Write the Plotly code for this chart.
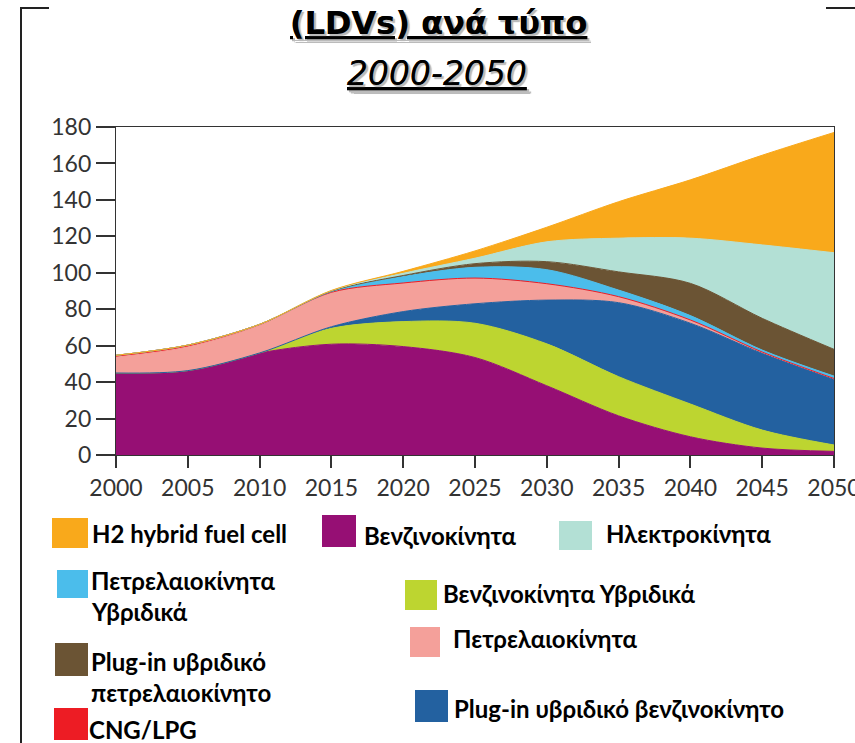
import plotly.graph_objects as go

# ---------------- data ----------------
years = [2000, 2005, 2010, 2015, 2020, 2025, 2030, 2035, 2040, 2045, 2050]

benzinokinita = [45, 46.3, 56, 60.8, 59.5, 53.5, 38, 21.5, 10, 3.8, 2]
benz_hybrid = [0, 0, 0, 8.7, 13.7, 18.8, 23, 21.5, 18, 9.9, 3.5]
plugin_benz = [0, 0, 0, 0.9, 5.5, 10.7, 24, 40.6, 44.3, 42.1, 36]
petrelaio = [8.7, 13, 15, 18.6, 15.5, 14, 9, 3.3, 1.8, 0.7, 0.5]
cng_lpg = [1, 1, 0.7, 0.3, 0.2, 0.1, 0, 0, 0, 0, 0]
petrel_hybrid = [0, 0, 0, 0.4, 3.5, 5.9, 7.7, 3.6, 2.4, 1.1, 1.3]
plugin_petrel = [0, 0, 0, 0.2, 0.6, 2, 4.4, 10, 17.7, 17.4, 14.7]
ilektro = [0, 0, 0, 0.3, 1.2, 3, 10.9, 18.5, 24.8, 40.3, 53]
h2_fuel = [0, 0, 0, 0.1, 1.1, 4, 8, 20, 32, 49.2, 66]

y_ticks = [0, 20, 40, 60, 80, 100, 120, 140, 160, 180]
x_ticks = [2000, 2005, 2010, 2015, 2020, 2025, 2030, 2035, 2040, 2045, 2050]

title_text = "(LDVs) ανά τύπο"
subtitle_text = "2000-2050"

# stacking order (bottom -> top)
series = [
    ("Βενζινοκίνητα", benzinokinita, "#960F74"),
    ("Βενζινοκίνητα Υβριδικά", benz_hybrid, "#BDD530"),
    ("Plug-in υβριδικό βενζινοκίνητο", plugin_benz, "#2361A0"),
    ("Πετρελαιοκίνητα", petrelaio, "#F4A09A"),
    ("CNG/LPG", cng_lpg, "#ED1C24"),
    ("Πετρελαιοκίνητα Υβριδικά", petrel_hybrid, "#4BBDEB"),
    ("Plug-in υβριδικό πετρελαιοκίνητο", plugin_petrel, "#6B5434"),
    ("Ηλεκτροκίνητα", ilektro, "#B3E0D5"),
    ("H2 hybrid fuel cell", h2_fuel, "#F9A91B"),
]

fig = go.Figure()
for name, vals, col in series:
    fig.add_trace(go.Scatter(
        x=years, y=vals, name=name, mode="lines",
        stackgroup="one", fillcolor=col,
        line=dict(color=col, width=1, shape="spline", smoothing=0.9),
        showlegend=False,
    ))

W, H = 855, 743
L, R, T, B = 116, 21, 127, 288


def px(x):
    return (x - L) / (W - L - R)


def py(y):
    return (H - B - y) / (H - T - B)


axis_font = dict(family="Lato, 'Open Sans', sans-serif", size=23, color="#333333")

fig.update_layout(
    width=W, height=H,
    margin=dict(l=L, r=R, t=T, b=B, autoexpand=False),
    paper_bgcolor="white", plot_bgcolor="white",
    xaxis=dict(range=[2000, 2050], tickvals=x_ticks, ticktext=[str(v) for v in x_ticks],
               showgrid=False, zeroline=False, showline=True, linecolor="#333",
               linewidth=1.2, mirror=True, ticks="outside", ticklen=12, tickwidth=1.5,
               tickcolor="#333", tickfont=axis_font, ticklabeloverflow="allow",
               automargin=False),
    yaxis=dict(range=[0, 180], tickvals=y_ticks, showgrid=False, zeroline=False,
               showline=True, linecolor="#333", linewidth=1.2, mirror=True,
               ticks="outside", ticklen=19, tickwidth=1.5, tickcolor="#333",
               tickfont=axis_font, automargin=False),
)

lbl_font = dict(family="Lato, 'Open Sans', sans-serif", size=24, color="black", weight="bold")

# legend layout: (series name, square box, text lines)
legend_items = [
    ("H2 hybrid fuel cell", (52, 518, 88, 548), [(90, 533, "H2 hybrid fuel cell")]),
    ("Βενζινοκίνητα", (322, 515, 356, 547), [(362, 535, "Βενζινοκίνητα")]),
    ("Ηλεκτροκίνητα", (559, 521, 592, 550), [(604, 533, "Ηλεκτροκίνητα")]),
    ("Πετρελαιοκίνητα Υβριδικά", (57, 570, 88, 598), [(89, 580, "Πετρελαιοκίνητα"), (89, 611, "Υβριδικά")]),
    ("Βενζινοκίνητα Υβριδικά", (405, 580, 437, 610), [(441, 593, "Βενζινοκίνητα Υβριδικά")]),
    ("Πετρελαιοκίνητα", (410, 627, 440, 657), [(451, 638, "Πετρελαιοκίνητα")]),
    ("Plug-in υβριδικό πετρελαιοκίνητο", (55, 643, 88, 676), [(89, 661, "Plug-in υβριδικό"), (89, 692, "πετρελαιοκίνητο")]),
    ("CNG/LPG", (54, 708, 88, 740), [(87, 729, "CNG/LPG")]),
    ("Plug-in υβριδικό βενζινοκίνητο", (415, 690, 448, 722), [(452, 708, "Plug-in υβριδικό βενζινοκίνητο")]),
]
colors = {n: c for n, _, c in series}

shapes = []
annotations = []
for name, (x0, y0, x1, y1), lines in legend_items:
    shapes.append(dict(type="rect", xref="paper", yref="paper",
                       x0=px(x0), x1=px(x1), y0=py(y1), y1=py(y0),
                       fillcolor=colors[name], line=dict(width=0)))
    for tx, ty, txt in lines:
        annotations.append(dict(text=txt, xref="paper", yref="paper",
                                x=px(tx), y=py(ty), xanchor="left", yanchor="middle",
                                showarrow=False, font=lbl_font))

# frame lines
frame = dict(color="#222", width=2)
shapes.append(dict(type="line", xref="paper", yref="paper", x0=px(21), x1=px(21), y0=py(8), y1=py(743), line=frame))
shapes.append(dict(type="line", xref="paper", yref="paper", x0=px(20), x1=px(49), y0=py(8), y1=py(8), line=frame))
shapes.append(dict(type="line", xref="paper", yref="paper", x0=px(826), x1=px(855), y0=py(8), y1=py(8), line=frame))

annotations.append(dict(text=title_text, xref="paper", yref="paper", x=px(438), y=py(23),
                        xanchor="center", yanchor="middle", showarrow=False,
                        font=dict(family="'DejaVu Sans', sans-serif", size=32, color="black",
                                  weight="bold", lineposition="under", shadow="2px 2px 1px #bbb")))
annotations.append(dict(text=subtitle_text, xref="paper", yref="paper", x=px(437), y=py(74),
                        xanchor="center", yanchor="middle", showarrow=False,
                        font=dict(family="'DejaVu Sans', sans-serif", size=33, color="black",
                                  style="italic", lineposition="under", shadow="2px 2px 1px #bbb")))

fig.update_layout(shapes=shapes, annotations=annotations)
fig.write_html("out.html", config={"displayModeBar": False},
               post_script="document.body.style.margin='0';document.body.style.overflow='hidden';")
